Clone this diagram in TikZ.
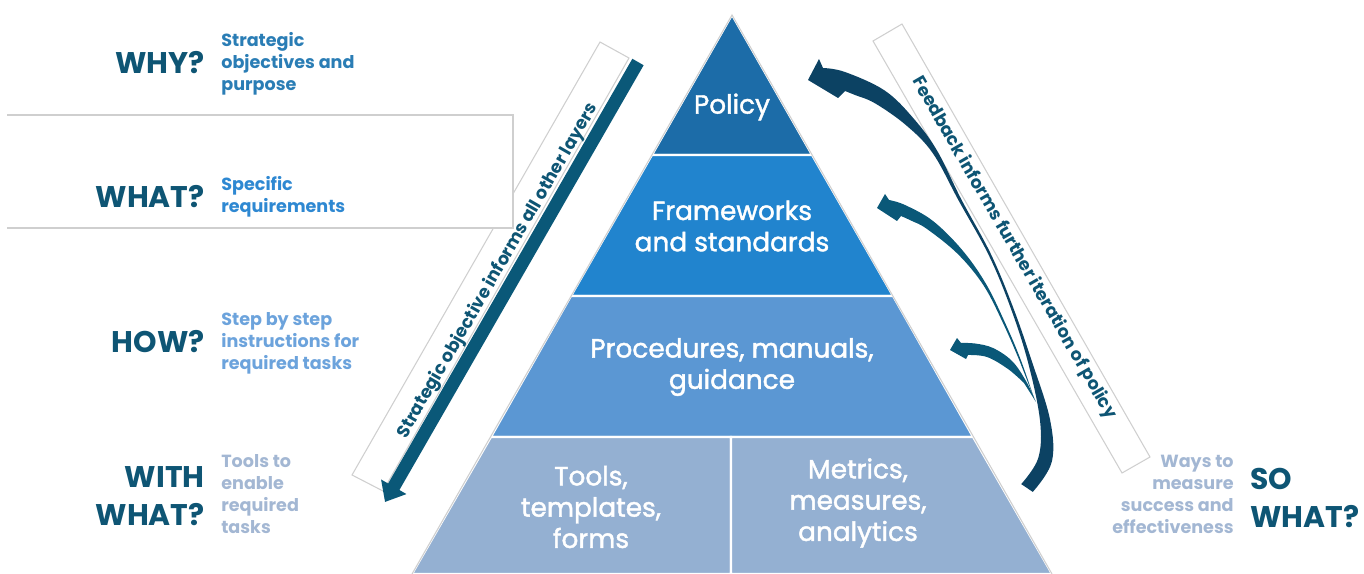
\documentclass[tikz,border=0pt]{standalone}
\usepackage{fontspec}
\setmainfont{Poppins}
\newfontfamily\layerfont{Poppins}[FakeBold=1.6]
\usetikzlibrary{arrows.meta}

\definecolor{policyblue}{HTML}{1C6CA8}
\definecolor{frameblue}{HTML}{2184CE}
\definecolor{procblue}{HTML}{5B97D3}
\definecolor{toolblue}{HTML}{94B0D2}
\definecolor{headteal}{HTML}{0E5574}
\definecolor{whyblue}{HTML}{2A7DB5}
\definecolor{whatblue}{HTML}{2E88D2}
\definecolor{howblue}{HTML}{6CA3DC}
\definecolor{withgrey}{HTML}{A3B7D3}
\definecolor{boxgrey}{HTML}{CFCFCF}
\definecolor{arrowteal}{HTML}{0A5878}
\definecolor{arrownavy}{HTML}{0C4263}

\tikzset{
  layer/.style={draw=white, line width=1.2pt},
  layertext/.style={text=white, align=center, font=\layerfont\fontsize{15}{17.8}\selectfont},
  question/.style={text=headteal, font=\bfseries\fontsize{17}{21.5}\selectfont, anchor=east, align=right},
  answer/.style={font=\bfseries\fontsize{10}{12.5}\selectfont, anchor=west, align=left},
  sidebox/.style={draw=boxgrey, fill=white, line width=0.6pt},
  sidetext/.style={text=headteal, font=\bfseries\fontsize{10}{11}\selectfont}
}

\begin{document}
\begin{tikzpicture}[x=0.2mm,y=-0.2mm]
    \tikzstyle{every node}+=[inner sep=0pt]
    \useasboundingbox (0,0) rectangle (1364,574);
    % pyramid
    \draw [layer, fill=policyblue] (732,15) -- (812,155) -- (652,155) -- cycle;
    \draw [layer, fill=frameblue] (652,155) -- (812,155) -- (893,296) -- (571,296) -- cycle;
    \draw [layer, fill=procblue] (571,296) -- (893,296) -- (973,437) -- (491,437) -- cycle;
    \draw [layer, fill=toolblue] (491,437) -- (731,437) -- (731,574) -- (412,574) -- cycle;
    \draw [layer, fill=toolblue] (731,437) -- (973,437) -- (1052,574) -- (731,574) -- cycle;
    \draw [boxgrey, line width=0.6pt] (412,574) -- (732,15) -- (1052,574);
    \node (policy) at (732,107) [layertext] {Policy};
    \node (frameworks) at (732,226) [layertext] {Frameworks\\and standards};
    \node (procedures) at (732,367) [layertext] {Procedures, manuals,\\guidance};
    \node (tools) at (591,507) [layertext] {Tools,\\templates,\\forms};
    \node (metrics) at (858,503) [layertext] {Metrics,\\measures,\\analytics};
    % left side
    \draw [sidebox] (600,42) -- (629,58) -- (383,491) -- (352,475) -- cycle;
    \path [fill=white, draw=boxgrey, line width=0.6pt] (7,115) -- (513,115) -- (513,228) -- (7,228);
    \node (stratlabel) at (498,271) [sidetext, rotate=60] {Strategic objective informs all other layers};
    \coordinate (stratstart) at (638,62);
    \coordinate (stratend) at (385,502);
    \draw [arrowteal, line width=7.4pt, -{Triangle[width=16pt,length=10pt]}] (stratstart) -- (stratend);
    \node (why) at (205,63) [question] {WHY?};
    \node (whydesc) at (221,64) [answer, text=whyblue] {Strategic\\objectives and\\purpose};
    \node (what) at (205,197) [question] {WHAT?};
    \node (whatdesc) at (221,197) [answer, text=whatblue] {Specific\\requirements};
    \node (how) at (205,342) [question] {HOW?};
    \node (howdesc) at (221,343) [answer, text=howblue] {Step by step\\instructions for\\required tasks};
    \node (withwhat) at (205,496) [question] {WITH\\WHAT?};
    \node (withdesc) at (221,494) [answer, text=withgrey] {Tools to\\enable\\required\\tasks};
    % right side
    \draw [sidebox] (873,41) -- (902,24) -- (1150,457) -- (1122,473) -- cycle;
    \node (feedlabel) at (1014,248) [sidetext, rotate=-60] {Feedback informs further iteration of policy};
    \node (sowhat) at (1250,498) [question, anchor=west, align=left] {SO\\WHAT?};
    \node (waysdesc) at (1234,494) [answer, anchor=east, align=right, text=withgrey] {Ways to\\measure\\success and\\effectiveness};
    % feedback arrows
    \fill [arrownavy] plot [smooth, tension=0.6] coordinates {(823,68) (845,72) (884.8,90.6) (913.6,118.5) (937.1,150.7) (961.3,199.3) (991.1,254.5) (1013.2,307.6) (1031.9,361.4) (1050,419.5) (1051.8,461.8) (1032.8,491.9)}
      -- plot [smooth, tension=0.6] coordinates {(1021.2,484.1) (1038.2,458.2) (1040,420.5) (1028.1,362.6) (1010.8,308.4) (988.9,255.5) (958.7,200.7) (932.9,153.4) (906.4,125.5) (875.2,103.4) (855,95) (845,91)}
      -- (838,98) -- (808,80) -- (819,59) -- cycle;
    \fill [arrowteal] plot [smooth, tension=0.6] coordinates {(889,200) (905,205) (933,221) (962.1,249.9) (986.2,284.2) (1005.9,324.6) (1020.7,359.7) (1034,398)}
      -- plot [smooth, tension=0.6] coordinates {(1019.3,360.3) (1004.1,325.4) (983.8,285.8) (957.9,254.1) (927,229) (912,221) (901,216)}
      -- (897,221) -- (877,208) -- (885,194) -- cycle;
    \fill [arrowteal] plot [smooth, tension=0.6] coordinates {(961,343) (975,343.5) (993,348) (1012,361) (1026,381) (1036,402)}
      -- plot [smooth, tension=0.6] coordinates {(1024,383) (1008,369) (987,357) (968,355)}
      -- (966,359) -- (950,350) -- (957,338) -- cycle;
\end{tikzpicture}
\end{document}
